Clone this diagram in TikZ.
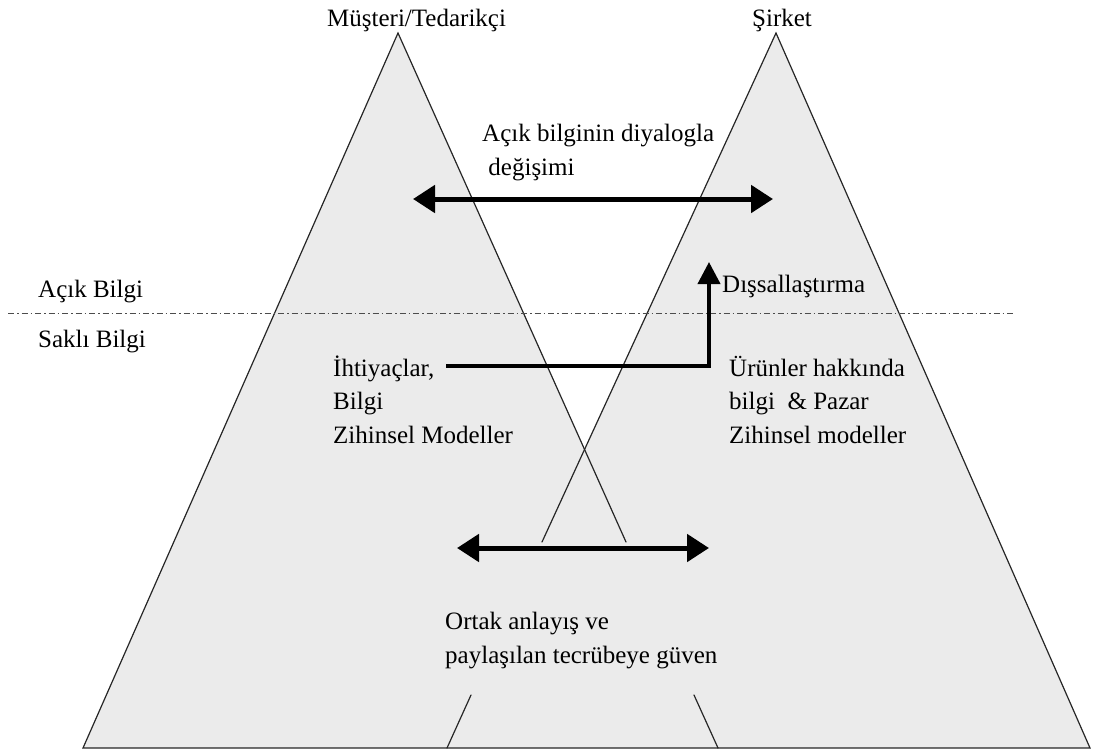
\documentclass[tikz,border=0pt]{standalone}
\usepackage{fontspec}
\setmainfont{Liberation Serif}
\usetikzlibrary{arrows.meta}
\definecolor{dreieck}{gray}{0.92}
\tikzset{
  yazi/.style={inner sep=0pt, font=\fontsize{25}{33.5}\selectfont, align=left, anchor=base west},
  kenar/.style={line width=1.2pt, draw=black!85, line cap=round},
  ciftok/.style={line width=5pt, {Triangle[length=22pt,width=27pt]}-{Triangle[length=22pt,width=27pt]}},
  tekok/.style={line width=4pt, -{Triangle[length=22pt,width=22pt]}},
  ayrac/.style={line width=1pt, draw=black!70, dash pattern=on 6pt off 3pt on 1.5pt off 3pt}
}
\begin{document}
\begin{tikzpicture}[x=1pt,y=-1pt]
    \useasboundingbox (0,0) rectangle (1097,753);

    %Ucgenler
    \fill[dreieck] (83,748) -- (398,33) -- (718,748) -- cycle;   %Musteri
    \fill[dreieck] (447,748) -- (776,33) -- (1090,748) -- cycle; %Sirket
    \draw[kenar] (718,748) -- (83,748) -- (398,33) -- (626,542);
    \draw[kenar] (694,695) -- (718,748) -- (1090,748) -- (776,33) -- (542,542);
    \draw[kenar] (471,695) -- (447,748);

    %Ayrac
    \draw[ayrac] (8,313) -- (1015,313);

    %Yazilar (alt satirin taban cizgisi)
    \node[yazi] (musteri) at (327,26) {Müşteri/Tedarikçi};
    \node[yazi] (sirket) at (752,26) {Şirket};
    \node[yazi] (acikb) at (38,297) {Açık Bilgi};
    \node[yazi] (sakli) at (38,347) {Saklı Bilgi};
    \node[yazi] (diyalog) at (482,175) {Açık bilginin diyalogla\\\ değişimi};
    \node[yazi] (disl) at (722,292) {Dışsallaştırma};
    \node[yazi] (ihtiyac) at (333,443) {İhtiyaçlar,\\Bilgi\\Zihinsel Modeller};
    \node[yazi] (urunler) at (729,443) {Ürünler hakkında\\bilgi \ \& Pazar\\Zihinsel modeller};
    \node[yazi] (ortak) at (445,663) {Ortak anlayış ve\\paylaşılan tecrübeye güven};

    %Oklar
    \coordinate (d1) at (413,199);
    \coordinate (d2) at (773,199);
    \draw[ciftok] (d1) -- (d2);

    \coordinate (k1) at (446,366);
    \coordinate (k2) at (709,262);
    \draw[tekok] (k1) -| (k2);

    \coordinate (o1) at (457,548);
    \coordinate (o2) at (709,548);
    \draw[ciftok] (o1) -- (o2);
\end{tikzpicture}
\end{document}
